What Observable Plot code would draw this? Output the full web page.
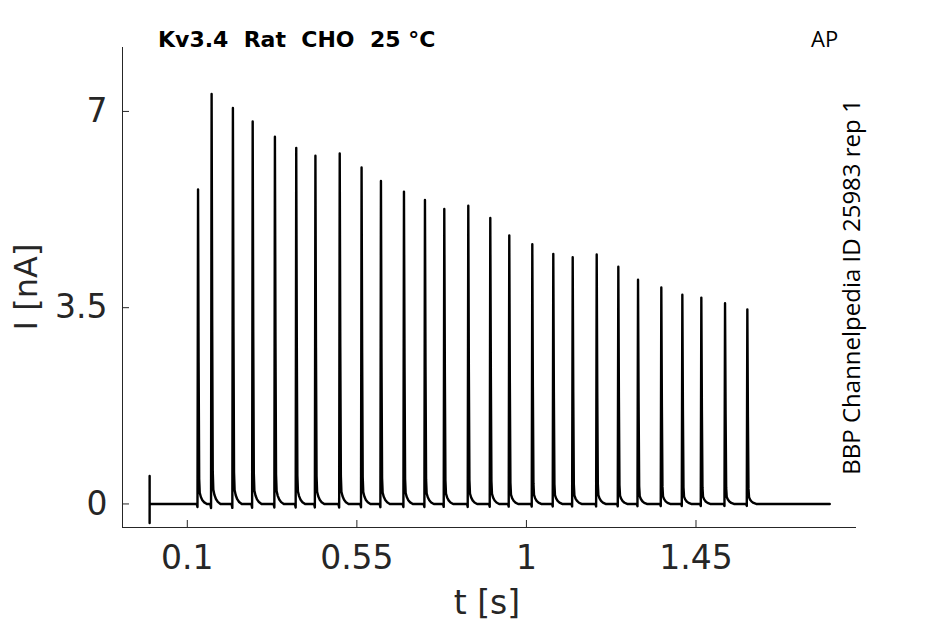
<!DOCTYPE html>
<html><head><meta charset="utf-8">
<script src="https://cdn.jsdelivr.net/npm/d3@7"></script>
<script src="https://cdn.jsdelivr.net/npm/@observablehq/plot@0.6"></script>
<style>body{margin:0;background:#fff}</style>
</head><body><div id="chart"></div>
<script>
// Spike onset times (s) and peak currents (nA)
const spikeTimes = [0.127, 0.163, 0.2195, 0.272, 0.331, 0.3876, 0.4385, 0.503, 0.561, 0.6124, 0.6735, 0.7292, 0.7805, 0.8442, 0.9026, 0.953, 1.0141, 1.0698, 1.1213, 1.185, 1.2424, 1.2947, 1.3565, 1.4123, 1.4627, 1.5256, 1.5848];
const spikePeaks = [5.61, 7.31, 7.06, 6.82, 6.55, 6.35, 6.21, 6.25, 6.00, 5.76, 5.57, 5.42, 5.26, 5.32, 5.10, 4.79, 4.63, 4.46, 4.40, 4.45, 4.23, 4.00, 3.86, 3.73, 3.68, 3.58, 3.47];
// Shape of one current pulse: time offset from onset (s) and fraction of its peak
const pulseDt   = [-0.002, 0, 0.0015, 0.003, 0.0045, 0.006, 0.009, 0.013, 0.018, 0.025];
const pulseFrac = [0, -0.01, 1, 0.45, 0.08, 0.035, 0.022, 0.012, 0.005, 0];
// Capacitive artifact at trace start (nA)
const artifactI = [0, 0.5, -0.34, 0];
const traceStart = 0;
const traceEnd = 1.805;
const xTicks = [0.1, 0.55, 1, 1.45];
const yTicks = [0, 3.5, 7];
const xDomain = [-0.072, 1.876];
const yDomain = [-0.42, 8.14];

const trace = [];
artifactI.forEach(v => trace.push({t: traceStart, i: v}));
spikeTimes.forEach((t0, k) => pulseDt.forEach((dt, j) => trace.push({t: t0 + dt, i: pulseFrac[j] * spikePeaks[k]})));
trace.push({t: traceEnd, i: 0});

const W = 945, H = 624, mL = 122, mR = 89, mT = 47, mB = 97;
const axisColor = "#262626";
const innerH = H - mT - mB;

const plot = Plot.plot({
  width: W, height: H,
  marginLeft: mL, marginRight: mR, marginTop: mT, marginBottom: mB,
  style: {fontFamily: "DejaVu Sans", fontSize: "33px", color: axisColor, background: "#fff"},
  x: {domain: xDomain},
  y: {domain: yDomain},
  marks: [
    Plot.ruleX([xDomain[0]], {stroke: axisColor, strokeWidth: 1}),
    Plot.ruleY([yDomain[0]], {stroke: axisColor, strokeWidth: 1}),
    Plot.tickX(xTicks, {x: d => d, stroke: axisColor, insetTop: innerH - 7}),
    Plot.tickY(yTicks, {y: d => d, stroke: axisColor, insetRight: (W - mL - mR) - 7}),
    Plot.axisX(xTicks, {tickSize: 0, tickPadding: 18, label: null, fill: axisColor, tickFormat: d => String(d)}),
    Plot.axisY(yTicks, {tickSize: 0, tickPadding: 15, label: null, fill: axisColor, tickFormat: d => String(d)}),
    Plot.line(trace, {x: "t", y: "i", stroke: "black", strokeWidth: 2.4, strokeLinejoin: "round"})
  ]
});

const svg = d3.select(plot);
svg.append("text").attr("x", 158).attr("y", 47).attr("text-anchor", "start")
  .attr("font-family", "DejaVu Sans").attr("font-weight", "bold").attr("font-size", 22)
  .attr("fill", "#000").attr("xml:space", "preserve").style("white-space", "pre").text("Kv3.4  Rat  CHO  25 °C");
svg.append("text").attr("x", 811).attr("y", 46.5).attr("text-anchor", "start")
  .attr("font-family", "Open Sans").attr("font-size", 22).attr("fill", "#000").text("AP");
svg.append("text").attr("transform", "translate(860,287) rotate(-90)")
  .attr("text-anchor", "middle").attr("font-family", "Open Sans").attr("font-size", 24)
  .attr("fill", "#000").text("BBP Channelpedia ID 25983 rep 1");
svg.append("text").attr("transform", "translate(37,287) rotate(-90)")
  .attr("text-anchor", "middle").attr("font-family", "DejaVu Sans").attr("font-size", 32)
  .attr("fill", axisColor).text("I [nA]");
svg.append("text").attr("x", 487).attr("y", 614)
  .attr("text-anchor", "middle").attr("font-family", "DejaVu Sans").attr("font-size", 33)
  .attr("fill", axisColor).text("t [s]");

document.getElementById("chart").appendChild(plot);
</script>
</body></html>
